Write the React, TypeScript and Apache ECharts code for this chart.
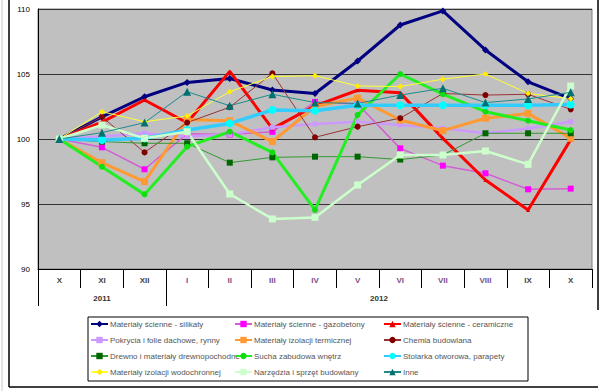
import React, { useEffect, useRef } from "react";
import * as echarts from "echarts";

const categories = ["X", "XI", "XII", "I", "II", "III", "IV", "V", "VI", "VII", "VIII", "IX", "X"];
const yearLabels = ["2011", "2012"];
const yearCenters = [1.5, 8];
const yearBounds = [0, 3];
const yTicks = [90, 95, 100, 105, 110];

const silikaty = [100, 101.7, 103.25, 104.35, 104.65, 103.77, 103.5, 106.0, 108.77, 109.85, 106.85, 104.4, 103.1];
const gazobetony = [100, 99.36, 97.67, 100.4, 100.35, 100.55, 102.85, 102.7, 99.28, 97.95, 97.36, 96.13, 96.18];
const ceramiczne = [100, 101.3, 103.0, 101.25, 105.2, 100.8, 102.55, 103.75, 103.55, 100.05, 96.85, 94.54, 99.95];
const pokrycia = [100, 100.2, 100.45, 100.2, 100.35, 100.9, 101.15, 101.33, 101.08, 100.82, 100.45, 100.8, 101.33];
const termiczne = [100, 98.18, 96.72, 101.5, 101.4, 99.8, 102.5, 103.15, 101.46, 100.64, 101.6, 101.97, 100.05];
const chemia = [100, 101.7, 98.97, 101.26, 102.45, 105.05, 100.13, 100.95, 101.6, 103.5, 103.38, 103.44, 102.28];
const drewno = [100, 99.8, 99.67, 99.67, 98.18, 98.59, 98.64, 98.64, 98.42, 98.77, 100.44, 100.44, 100.44];
const sucha = [100, 97.87, 95.74, 99.41, 100.56, 98.97, 94.54, 101.85, 105.0, 103.45, 102.1, 101.41, 100.69];
const stolarka = [100, 99.92, 100.05, 100.69, 101.2, 102.23, 102.18, 102.6, 102.6, 102.6, 102.6, 102.6, 102.65];
const wodochronne = [100, 102.1, 101.33, 101.77, 103.64, 104.8, 104.87, 104.08, 104.03, 104.6, 105.0, 103.5, 103.1];
const narzedzia = [100, 101.08, 100.05, 100.56, 95.77, 93.85, 93.97, 96.46, 98.77, 98.77, 99.08, 98.05, 104.08];
const inne = [100, 100.49, 101.26, 103.64, 102.56, 103.44, 102.8, 102.74, 103.38, 103.9, 102.8, 103.08, 103.59];

const seriesDefs = [
  { name: "Materiały ścienne - silikaty", data: silikaty, line: "#000080", mark: "#000080", w: 3, sym: "diamond", size: 7 },
  { name: "Materiały ścienne - gazobetony", data: gazobetony, line: "#d45ed4", mark: "#ff00ff", w: 1.5, sym: "rect", size: 6 },
  { name: "Materiały ścienne - ceramiczne", data: ceramiczne, line: "#ff0000", mark: "#e00000", w: 3, sym: "triangle", size: 4 },
  { name: "Pokrycia i folie dachowe, rynny", data: pokrycia, line: "#cc99ff", mark: "#cc99ff", w: 2.5, sym: "rect", size: 5 },
  { name: "Materiały izolacji termicznej", data: termiczne, line: "#ff9933", mark: "#ff9933", w: 3, sym: "rect", size: 7 },
  { name: "Chemia budowlana", data: chemia, line: "#993333", mark: "#800000", w: 1, sym: "circle", size: 6 },
  { name: "Drewno i materiały drewnopochodne", data: drewno, line: "#339933", mark: "#006600", w: 1, sym: "rect", size: 6 },
  { name: "Sucha zabudowa wnętrz", data: sucha, line: "#22ee22", mark: "#11dd11", w: 3, sym: "circle", size: 6 },
  { name: "Stolarka otworowa, parapety", data: stolarka, line: "#33ccff", mark: "#00ffff", w: 3.5, sym: "circle", size: 8 },
  { name: "Materiały izolacji wodochronnej", data: wodochronne, line: "#ffff33", mark: "#ffee00", w: 1, sym: "diamond", size: 6 },
  { name: "Narzędzia i sprzęt budowlany", data: narzedzia, line: "#ccffcc", mark: "#ccffcc", w: 2.5, sym: "rect", size: 7 },
  { name: "Inne", data: inne, line: "#1e8a8a", mark: "#007070", w: 1, sym: "triangle", size: 8 },
];

const purpleIdx = [3, 4, 5, 6, 7, 8, 9, 10];

export default function App() {
  const ref = useRef<HTMLDivElement>(null);
  useEffect(() => {
    if (!ref.current) return;
    const chart = echarts.init(ref.current, undefined, { renderer: "svg" });
    const font = "Liberation Sans, Arial, sans-serif";
    const legendCol = (names: string[], left: number) => ({
      orient: "vertical",
      left,
      top: 320,
      padding: 0,
      itemWidth: 17,
      itemHeight: 8,
      itemGap: 8,
      selectedMode: false,
      data: names,
      textStyle: { fontSize: 8, color: "#555", fontFamily: font, padding: [0, 0, 0, -3] },
    });
    const names = seriesDefs.map((s) => s.name);
    chart.setOption({
      animation: false,
      backgroundColor: "#ffffff",
      grid: {
        left: 38,
        top: 9,
        right: 8,
        bottom: 122,
        show: true,
        backgroundColor: "#c0c0c0",
        borderColor: "#808080",
        borderWidth: 1,
      },
      legend: [
        legendCol([names[0], names[3], names[6], names[9]], 90),
        legendCol([names[1], names[4], names[7], names[10]], 234),
        legendCol([names[2], names[5], names[8], names[11]], 383),
      ],
      xAxis: [
        {
          type: "category",
          data: categories,
          boundaryGap: true,
          axisLine: { lineStyle: { color: "#000", width: 1 } },
          axisTick: { show: true, interval: 0, length: 19, lineStyle: { color: "#000" } },
          axisLabel: {
            interval: 0,
            margin: 7,
            fontSize: 8,
            fontFamily: font,
            formatter: (v: string, i: number) => (purpleIdx.includes(i) ? `{p|${v}}` : `{g|${v}}`),
            rich: {
              p: { color: "#7a4f86", fontSize: 8, fontWeight: "bold", fontFamily: font },
              g: { color: "#444", fontSize: 8, fontWeight: "bold", fontFamily: font },
            },
          },
        },
        {
          type: "value",
          min: 0,
          max: 13,
          position: "bottom",
          offset: 19,
          axisLine: { show: false },
          splitLine: { show: false },
          axisTick: { show: true, customValues: yearBounds, length: 18, lineStyle: { color: "#000" } },
          axisLabel: {
            customValues: yearCenters,
            margin: 6,
            fontSize: 8,
            fontWeight: "bold",
            color: "#333",
            fontFamily: font,
            formatter: (v: number) => yearLabels[yearCenters.indexOf(v)] ?? "",
          },
        },
      ],
      yAxis: {
        type: "value",
        min: yTicks[0],
        max: yTicks[yTicks.length - 1],
        interval: 5,
        axisLine: { show: true, lineStyle: { color: "#000" } },
        axisTick: { show: false },
        axisLabel: { fontSize: 8, color: "#000", margin: 8, fontFamily: font },
        splitLine: { lineStyle: { color: "#333", width: 1 } },
      },
      series: seriesDefs.map((s) => ({
        name: s.name,
        type: "line",
        xAxisIndex: 0,
        data: s.data,
        symbol: s.sym,
        symbolSize: s.size,
        showSymbol: true,
        lineStyle: { color: s.line, width: s.w },
        itemStyle: { color: s.mark, borderWidth: 0 },
        color: s.line,
      })),
      graphic: [
        { type: "rect", shape: { x: 88, y: 317, width: 440, height: 64 }, style: { fill: "none", stroke: "#000", lineWidth: 1 }, z: 10 },
        { type: "line", shape: { x1: 9, y1: 0, x2: 9, y2: 387 }, style: { stroke: "#000", lineWidth: 1.5 } },
        { type: "line", shape: { x1: 598, y1: 0, x2: 598, y2: 310 }, style: { stroke: "#000", lineWidth: 1.5 } },
        { type: "line", shape: { x1: 9, y1: 387, x2: 598, y2: 387 }, style: { stroke: "#000", lineWidth: 1.5 } },
        { type: "line", shape: { x1: 2, y1: 0, x2: 2, y2: 391 }, style: { stroke: "#c8c8c8", lineWidth: 1 } },
      ],
    });
    return () => chart.dispose();
  }, []);
  return <div ref={ref} style={{ position: "fixed", left: 0, top: 0, width: 600, height: 391 }} />;
}
